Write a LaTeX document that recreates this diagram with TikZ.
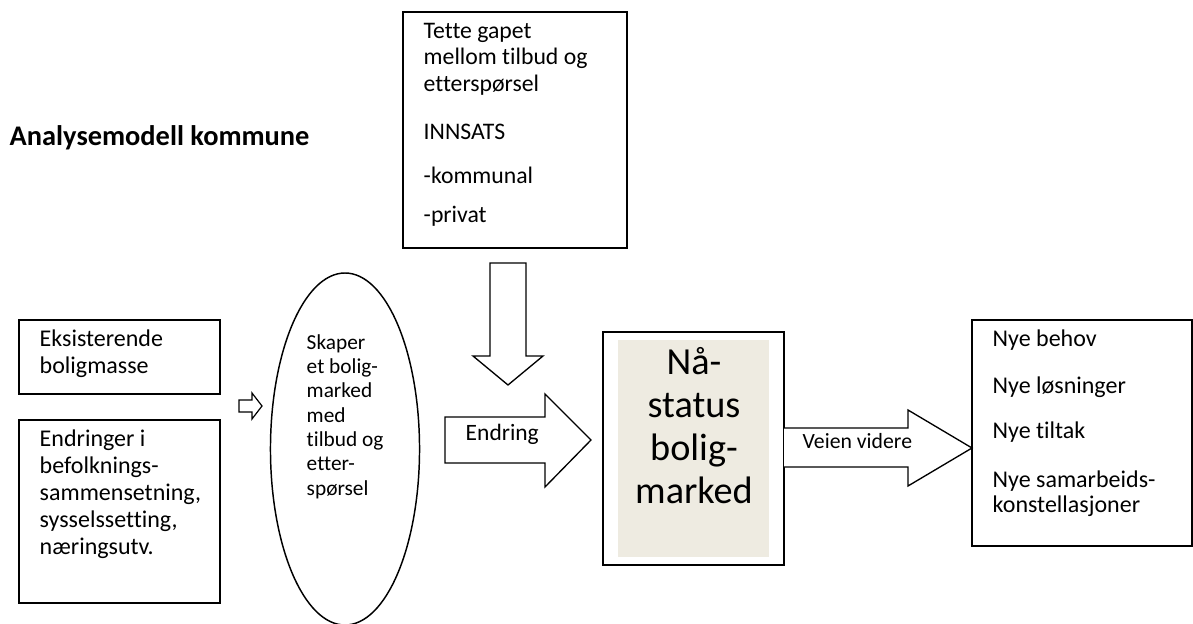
\documentclass[tikz,border=0pt]{standalone}
\usepackage{fontspec}
\setmainfont{Carlito}[Ligatures={NoCommon}]
\definecolor{beige}{RGB}{238,235,225}
\begin{document}
\begin{tikzpicture}[x=0.75pt,y=-0.75pt, line width=1.1pt,
  txt/.style={anchor=base west, inner sep=0pt, align=left, font=\fontsize{18}{20.25}\selectfont},
  blockarrow/.style={draw=black, fill=white, line width=1pt, line join=miter}]
\useasboundingbox (0,0) rectangle (1193,624);

% title
\node[anchor=base west, inner sep=0pt, font=\fontsize{21.3}{24}\selectfont\bfseries] (title) at (9,146) {Analysemodell kommune};

% top box (anchor = baseline of last line)
\draw (403,12) rectangle (627,248);
\node[txt, font=\fontsize{17.8}{19.9}\selectfont] (innsats) at (423,223)
  {Tette gapet\\mellom tilbud og\\etterspørsel\\[16pt]INNSATS\\[13pt]-kommunal\\[10pt]-privat};

% down arrow
\draw[blockarrow] (490,263) -- (526,263) -- (526,356) -- (543,356) -- (508,385) -- (473,356) -- (490,356) -- cycle;

% left boxes
\draw (19,320) rectangle (220,394);
\node[txt] (eks) at (39,373) {Eksisterende\\boligmasse};
\draw (19,420) rectangle (220,603);
\node[txt] (endr) at (39,554) {Endringer i\\befolknings-\\sammensetning,\\sysselssetting,\\næringsutv.};

% small arrow
\draw[blockarrow, line width=0.9pt] (239,400) -- (252,400) -- (252,393) -- (262,406) -- (252,419) -- (252,412) -- (239,412) -- cycle;

% ellipse
\draw (345,449) ellipse [x radius=55.9pt, y radius=132pt];
\node[txt, font=\fontsize{16}{18.2}\selectfont] (skaper) at (306,495)
  {Skaper\\et bolig-\\marked\\med\\tilbud og\\etter-\\spørsel};

% Endring arrow
\draw[blockarrow] (445,417) -- (545,417) -- (545,394) -- (591,440) -- (545,487) -- (545,463) -- (445,463) -- cycle;
\node[txt, font=\fontsize{17.6}{20}\selectfont] (endring) at (465,440) {Endring};

% Nå-status box
\draw (603,332) rectangle (784,565);
\fill[beige] (618,340) rectangle (769,557);
\node[anchor=base, inner sep=0pt, align=center, font=\fontsize{28.7}{32.25}\selectfont] (naa) at (694,503)
  {Nå-\\status\\bolig-\\marked};

% Veien videre arrow
\draw[blockarrow] (784,428) -- (908,428) -- (908,410) -- (972,448) -- (908,486) -- (908,467) -- (784,467);
\node[txt, font=\fontsize{16.3}{20}\selectfont] (veien) at (802,448) {Veien videre};

% right box
\draw (972,320) rectangle (1192,546);
\node[txt, font=\fontsize{18}{18.75}\selectfont] (nye) at (992,512)
  {Nye behov\\[16.5pt]Nye løsninger\\[15pt]Nye tiltak\\[18pt]Nye samarbeids-\\konstellasjoner};
\end{tikzpicture}
\end{document}
